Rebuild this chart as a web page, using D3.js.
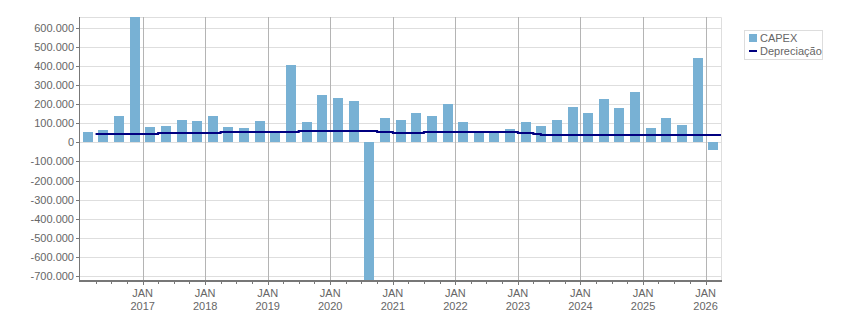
<!DOCTYPE html>
<html>
<head>
<meta charset="utf-8">
<script src="https://cdn.jsdelivr.net/npm/d3@7"></script>
<style>
  body { margin: 0; background: #fff; }
  svg text { font-family: Tahoma, "Liberation Sans", sans-serif; font-size: 11px; fill: #666; }
</style>
</head>
<body>
<svg id="chart" width="851" height="313"></svg>
<script>
// quarterly CAPEX, 2016 Q1 .. 2026 Q1
var quarters = [
  "2016-01", "2016-04", "2016-07", "2016-10",
  "2017-01", "2017-04", "2017-07", "2017-10",
  "2018-01", "2018-04", "2018-07", "2018-10",
  "2019-01", "2019-04", "2019-07", "2019-10",
  "2020-01", "2020-04", "2020-07", "2020-10",
  "2021-01", "2021-04", "2021-07", "2021-10",
  "2022-01", "2022-04", "2022-07", "2022-10",
  "2023-01", "2023-04", "2023-07", "2023-10",
  "2024-01", "2024-04", "2024-07", "2024-10",
  "2025-01", "2025-04", "2025-07", "2025-10",
  "2026-01"
];
var capex = [
  54000, 64000, 137000, 660000,
  80000, 85000, 116000, 111000,
  137000, 80000, 75000, 111000,
  54000, 403000, 105000, 247000,
  231000, 215000, -730000, 127000,
  116000, 153000, 137000, 200000,
  105000, 54000, 54000, 69000,
  105000, 85000, 116000, 184000,
  153000, 226000, 179000, 262000,
  75000, 127000, 90000, 440000,
  -44000
];

// depreciation, step line: value holds from each date to the next
var depDates = [
  "2016-04-01", "2017-04-01", "2018-04-01", "2019-07-01", "2020-10-01",
  "2021-01-01", "2021-07-01", "2023-01-01", "2023-04-01", "2023-05-15",
  "2026-04-01"
];
var depValues = [
  43000, 48000, 54000, 59000, 54000,
  48000, 54000, 48000, 43000, 38000,
  38000
];

var yTicks = d3.range(-700000, 600001, 100000);
var seriesNames = ["CAPEX", "Depreciação"];

var barColor = "#78b1d4";
var lineColor = "#000080";

var parseMonth = d3.timeParse("%Y-%m");
var parseDay = d3.timeParse("%Y-%m-%d");

var svg = d3.select("#chart");
var pLeft = 80, pRight = 721, pTop = 17, pBottom = 280;

var x = d3.scaleTime()
          .domain([new Date(2016, 0, 1), new Date(2026, 3, 1)])
          .range([pLeft, pRight]);

var y = d3.scaleLinear()
          .domain([-720000, 655000])
          .range([pBottom, pTop]);

var locale = d3.formatLocale({
  decimal: ",", thousands: ".", grouping: [3], currency: ["", ""], minus: "-"
});
var fmt = locale.format(",d");

// horizontal grid
svg.append("g")
  .selectAll("line")
  .data(yTicks)
  .enter()
  .append("line")
    .attr("x1", pLeft)
    .attr("x2", pRight)
    .attr("y1", d => Math.round(y(d)) + 0.5)
    .attr("y2", d => Math.round(y(d)) + 0.5)
    .attr("stroke", "#dedede");

// plot frame top / right
svg.append("path")
    .attr("d", `M${pLeft},${pTop + 0.5}H${pRight + 0.5}V${pBottom}`)
    .attr("fill", "none")
    .attr("stroke", "#dedede");

// vertical grid at january
var years = d3.timeYear.range(new Date(2017, 0, 1), new Date(2026, 1, 1));
svg.append("g")
  .selectAll("line")
  .data(years)
  .enter()
  .append("line")
    .attr("x1", d => Math.round(x(d)) + 0.5)
    .attr("x2", d => Math.round(x(d)) + 0.5)
    .attr("y1", pTop)
    .attr("y2", pBottom)
    .attr("stroke", "#b4b4b4");

// bars
svg.append("defs").append("clipPath")
    .attr("id", "plot-clip")
  .append("rect")
    .attr("x", pLeft)
    .attr("y", pTop)
    .attr("width", pRight - pLeft)
    .attr("height", pBottom - pTop);

var barW = 10;
svg.append("g")
    .attr("clip-path", "url(#plot-clip)")
  .selectAll("rect")
  .data(quarters.map((q, i) => ({ date: parseMonth(q), value: capex[i] })))
  .enter()
  .append("rect")
    .attr("x", d => {
      var c = (x(d.date) + x(d3.timeMonth.offset(d.date, 3))) / 2;
      return Math.round(c - barW / 2);
    })
    .attr("width", barW)
    .attr("y", d => Math.round(y(Math.max(0, d.value))))
    .attr("height", d => Math.round(Math.abs(y(d.value) - y(0))))
    .attr("fill", barColor);

// depreciation line
var dep = depDates.map((d, i) => ({ date: parseDay(d), value: depValues[i] }));
svg.append("path")
    .datum(dep)
    .attr("fill", "none")
    .attr("stroke", lineColor)
    .attr("stroke-width", 2)
    .attr("d", d3.line()
                 .curve(d3.curveStepAfter)
                 .x(d => x(d.date))
                 .y(d => Math.round(y(d.value))));

// y axis
var yAxis = svg.append("g")
    .attr("transform", `translate(${pLeft},0)`);
yAxis.append("line")
    .attr("x1", -0.5).attr("x2", -0.5)
    .attr("y1", pTop).attr("y2", pBottom)
    .attr("stroke", "#777");
yAxis.selectAll(".tick")
  .data(yTicks)
  .enter()
  .append("g")
    .attr("transform", d => `translate(0,${Math.round(y(d)) + 0.5})`)
    .each(function(d) {
      var g = d3.select(this);
      g.append("line").attr("x1", -4).attr("x2", 0).attr("stroke", "#777");
      g.append("text")
          .attr("x", -6)
          .attr("dy", "0.35em")
          .style("text-anchor", "end")
          .text(fmt(d));
    });

// x axis
var xAxis = svg.append("g");
xAxis.append("line")
    .attr("x1", pLeft - 1).attr("x2", pRight + 1)
    .attr("y1", pBottom + 1).attr("y2", pBottom + 1)
    .attr("stroke", "#777")
    .attr("stroke-width", 2);
var qTicks = d3.timeMonth.every(3).range(new Date(2016, 3, 1), new Date(2026, 1, 1));
xAxis.selectAll(".qtick")
  .data(qTicks)
  .enter()
  .append("line")
    .attr("x1", d => Math.round(x(d)) + 0.5)
    .attr("x2", d => Math.round(x(d)) + 0.5)
    .attr("y1", pBottom)
    .attr("y2", d => d.getMonth() === 0 ? pBottom + 5 : pBottom + 4)
    .attr("stroke", "#777");
years.forEach(d => {
  var t = xAxis.append("text")
      .attr("x", x(d))
      .attr("y", pBottom + 17)
      .style("text-anchor", "middle");
  t.append("tspan").attr("x", x(d)).text("JAN");
  t.append("tspan").attr("x", x(d)).attr("dy", 13).text(d.getFullYear());
});

// legend
var legend = svg.append("g").attr("transform", "translate(744,30)");
legend.append("rect")
    .attr("x", 0.5).attr("y", 0.5)
    .attr("width", 78).attr("height", 29)
    .attr("fill", "#fff")
    .attr("stroke", "#ddd");
legend.append("rect")
    .attr("x", 5).attr("y", 4)
    .attr("width", 8).attr("height", 8)
    .attr("fill", barColor);
legend.append("line")
    .attr("x1", 5).attr("x2", 13)
    .attr("y1", 21).attr("y2", 21)
    .attr("stroke", lineColor)
    .attr("stroke-width", 2);
seriesNames.forEach((name, i) => {
  legend.append("text")
      .attr("x", 16)
      .attr("y", 12 + i * 13)
      .text(name);
});
</script>
</body>
</html>
